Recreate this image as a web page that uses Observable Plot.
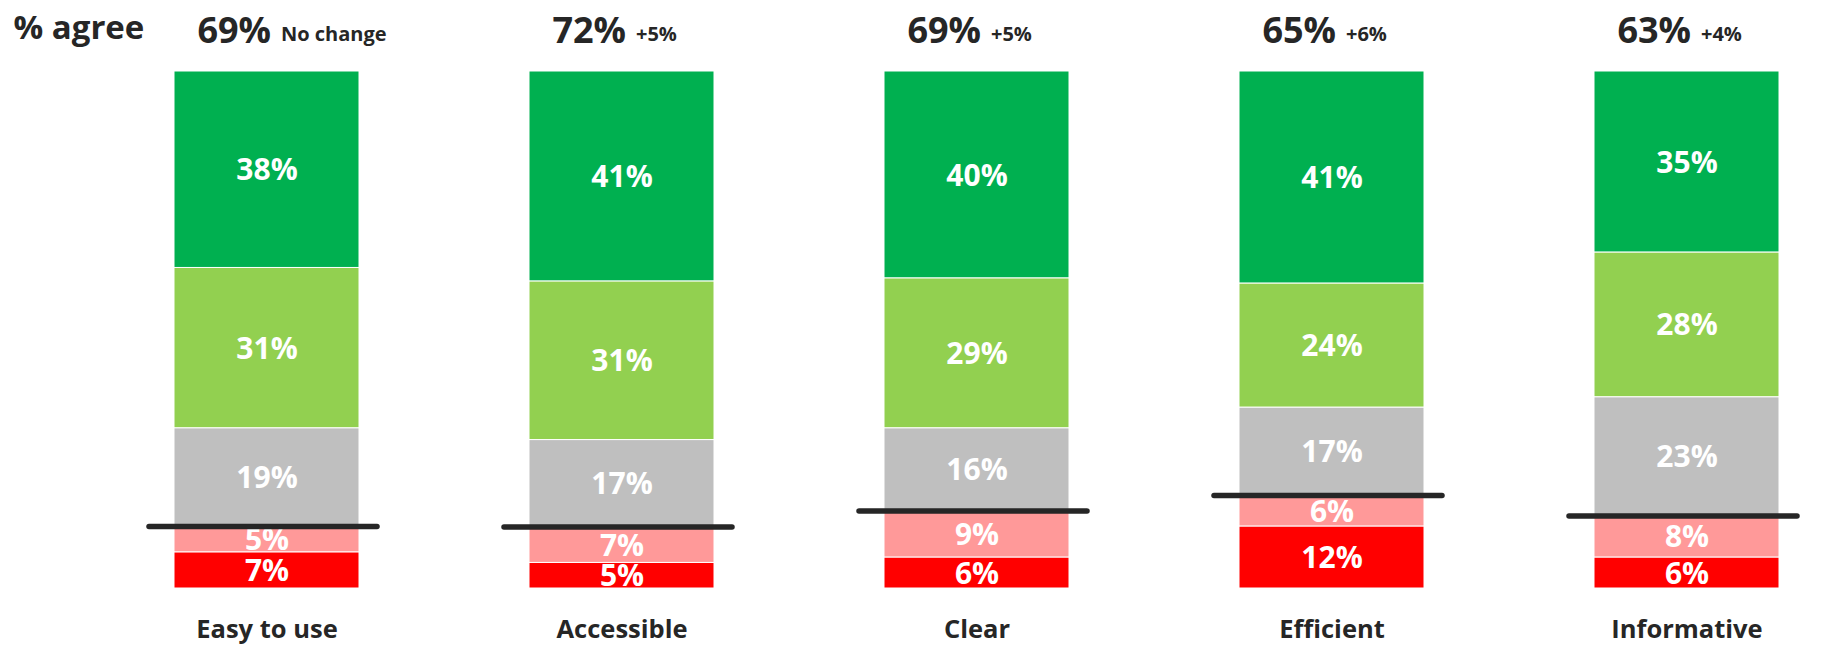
<!DOCTYPE html>
<html>
<head>
<meta charset="utf-8">
<script src="https://cdn.jsdelivr.net/npm/d3@7"></script>
<script src="https://cdn.jsdelivr.net/npm/@observablehq/plot@0.6"></script>
<style>
  html, body { margin: 0; padding: 0; background: #fff; }
  #chart svg { display: block; }
</style>
</head>
<body>
<div id="chart"></div>
<script>
const categories = ["Easy to use", "Accessible", "Clear", "Efficient", "Informative"];
const agreeTotals = ["69%", "72%", "69%", "65%", "63%"];
const changes = ["No change", "+5%", "+5%", "+6%", "+4%"];
const levels = ["Strongly disagree", "Disagree", "Neutral", "Agree", "Strongly agree"];
const stronglyDisagree = [7, 5, 6, 12, 6];
const disagree = [5, 7, 9, 6, 8];
const neutral = [19, 17, 16, 17, 23];
const agree = [31, 31, 29, 24, 28];
const stronglyAgree = [38, 41, 40, 41, 35];
const levelColors = ["#FF0000", "#FF9999", "#BFBFBF", "#92D050", "#00B050"];

const series = [stronglyDisagree, disagree, neutral, agree, stronglyAgree];
const rows = [];
levels.forEach((level, li) => {
  categories.forEach((cat, ci) => {
    rows.push({category: cat, level, value: series[li][ci]});
  });
});
const summary = categories.map((cat, ci) => {
  const total = series.reduce((s, arr) => s + arr[ci], 0);
  return {
    category: cat,
    agreeTotal: agreeTotals[ci],
    change: changes[ci],
    disagreeShare: (stronglyDisagree[ci] + disagree[ci]) / total
  };
});

const font = "'Open Sans', 'Noto Sans', sans-serif";
const dark = "#262626";

const chart = Plot.plot({
  width: 1832,
  height: 645,
  marginTop: 71,
  marginBottom: 57,
  marginLeft: 0,
  marginRight: 0,
  style: {fontFamily: font, background: "white"},
  x: {domain: categories, range: [172, 1782], paddingInner: 0.4775, paddingOuter: 0, axis: null},
  y: {domain: [0, 1], axis: null},
  color: {domain: levels, range: levelColors},
  marks: [
    Plot.barY(rows, Plot.stackY({
      offset: "normalize",
      x: "category", y: "value", z: "level", fill: "level",
      stroke: "white", strokeWidth: 1
    })),
    Plot.text(rows, Plot.stackY({
      offset: "normalize",
      x: "category", y: "value", z: "level",
      text: d => d.value + "%",
      fill: "white", fontSize: 30, fontWeight: "bold", lineAnchor: "middle", dy: 1
    })),
    Plot.tickY(summary, {
      x: "category", y: "disagreeShare",
      stroke: dark, strokeWidth: 5.5, strokeLinecap: "round",
      insetLeft: -25, insetRight: -18
    }),
    Plot.text(summary, {
      x: "category", text: "category", frameAnchor: "bottom",
      dy: 49, lineAnchor: "bottom", fontSize: 25.5, fontWeight: "bold", fill: dark
    }),
    Plot.text(summary, {
      x: "category", text: "agreeTotal", frameAnchor: "top",
      textAnchor: "end", lineAnchor: "bottom", dy: -29, dx: 4,
      fontSize: 36, fontWeight: "bold", fill: dark
    }),
    Plot.text(summary, {
      x: "category", text: "change", frameAnchor: "top",
      textAnchor: "start", lineAnchor: "bottom", dy: -31, dx: 14,
      fontSize: 20, fontWeight: "bold", fill: dark
    }),
    Plot.text(["% agree"], {
      text: d => d, frameAnchor: "top-left",
      textAnchor: "start", lineAnchor: "bottom", dx: 13, dy: -33,
      fontSize: 33, fontWeight: "bold", fill: dark
    })
  ]
});
document.getElementById("chart").appendChild(chart);
</script>
</body>
</html>
